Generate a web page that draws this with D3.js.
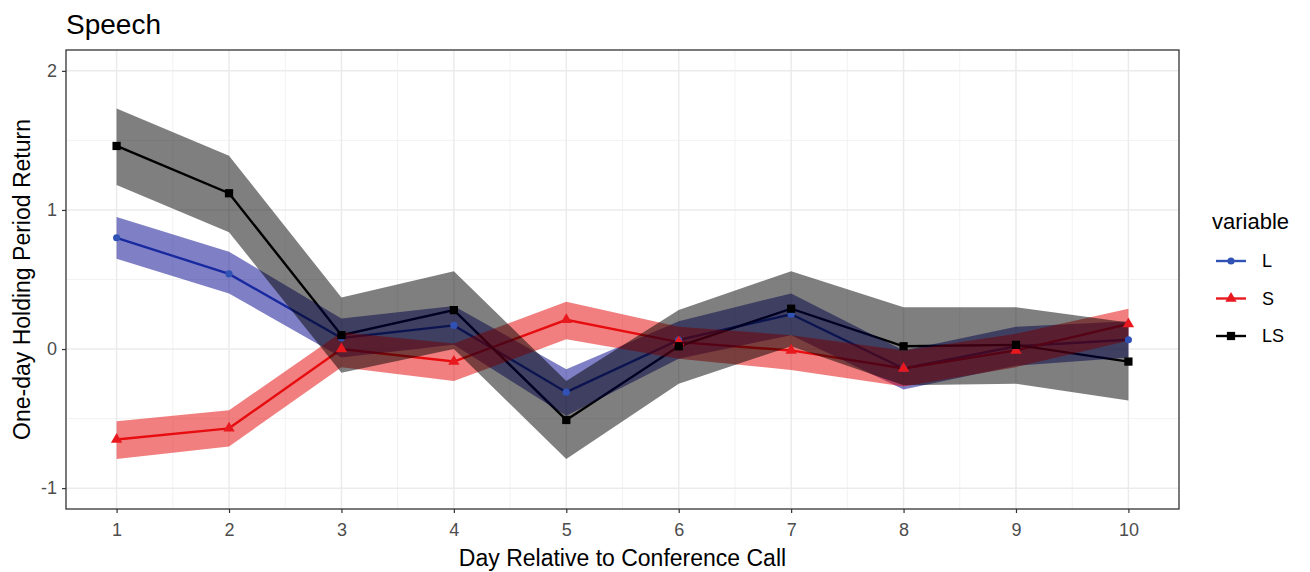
<!DOCTYPE html>
<html>
<head>
<meta charset="utf-8">
<script src="https://cdn.jsdelivr.net/npm/d3@7"></script>
<style>
  body { margin: 0; background: #fff; }
  text { font-family: "Liberation Sans", Arial, sans-serif; }
</style>
</head>
<body>
<div class="canva"></div>
<script>
// data
const days = [1, 2, 3, 4, 5, 6, 7, 8, 9, 10];
const seriesNames = ['L', 'S', 'LS'];

const L    = [0.80, 0.54, 0.08, 0.17, -0.31, 0.065, 0.25, -0.14, 0.02, 0.067];
const L_lo = [0.65, 0.40, -0.06, 0.03, -0.48, -0.07, 0.10, -0.29, -0.12, -0.06];
const L_hi = [0.95, 0.70, 0.22, 0.31, -0.145, 0.20, 0.40, -0.01, 0.16, 0.20];

const S    = [-0.65, -0.57, 0.0, -0.09, 0.21, 0.05, -0.01, -0.14, -0.01, 0.18];
const S_lo = [-0.79, -0.70, -0.13, -0.23, 0.07, -0.07, -0.15, -0.27, -0.13, 0.06];
const S_hi = [-0.52, -0.44, 0.12, 0.04, 0.34, 0.16, 0.10, -0.01, 0.11, 0.29];

const LS    = [1.46, 1.12, 0.10, 0.28, -0.51, 0.02, 0.29, 0.02, 0.03, -0.09];
const LS_lo = [1.18, 0.84, -0.17, 0.0, -0.79, -0.25, 0.02, -0.26, -0.25, -0.37];
const LS_hi = [1.73, 1.39, 0.37, 0.56, -0.23, 0.28, 0.56, 0.30, 0.30, 0.19];

const yTicks = [-1, 0, 1, 2];
const yMinor = [-0.5, 0.5, 1.5];
const xMinor = [1.5, 2.5, 3.5, 4.5, 5.5, 6.5, 7.5, 8.5, 9.5];

const lineColor = { L: '#3152b5', S: '#e8191e', LS: '#000000' };
const fillColor = { L: '#00008b', S: '#e60000', LS: '#000000' };
const shapes = { L: d3.symbolCircle, S: d3.symbolTriangle, LS: d3.symbolSquare };
const shapeSize = { L: 40, S: 56, LS: 68 };

const series = [
  { key: 'L', v: L, lo: L_lo, hi: L_hi },
  { key: 'S', v: S, lo: S_lo, hi: S_hi },
  { key: 'LS', v: LS, lo: LS_lo, hi: LS_hi }
];

const W = 1310, H = 572;
const pLeft = 66, pRight = 1179, pTop = 50, pBottom = 509;

const svg = d3.select('.canva').append('svg')
  .attr('width', W)
  .attr('height', H);

const x = d3.scaleLinear().domain([0.55, 10.45]).range([pLeft, pRight]);
const y = d3.scaleLinear().domain([-1.15, 2.15]).range([pBottom, pTop]);

// grid
const grid = svg.append('g');
grid.selectAll('.ymin').data(yMinor).enter().append('line')
  .attr('x1', pLeft).attr('x2', pRight)
  .attr('y1', d => y(d)).attr('y2', d => y(d))
  .attr('stroke', '#f2f2f2').attr('stroke-width', 1);
grid.selectAll('.xmin').data(xMinor).enter().append('line')
  .attr('y1', pTop).attr('y2', pBottom)
  .attr('x1', d => x(d)).attr('x2', d => x(d))
  .attr('stroke', '#f2f2f2').attr('stroke-width', 1);
grid.selectAll('.ymaj').data(yTicks).enter().append('line')
  .attr('x1', pLeft).attr('x2', pRight)
  .attr('y1', d => y(d)).attr('y2', d => y(d))
  .attr('stroke', '#ebebeb').attr('stroke-width', 1.5);
grid.selectAll('.xmaj').data(days).enter().append('line')
  .attr('y1', pTop).attr('y2', pBottom)
  .attr('x1', d => x(d)).attr('x2', d => x(d))
  .attr('stroke', '#ebebeb').attr('stroke-width', 1.5);

const line = d3.line().x((d, i) => x(days[i])).y(d => y(d));

// lines sit below the ribbons
series.forEach(s => {
  svg.append('path')
    .attr('d', line(s.v))
    .attr('fill', 'none')
    .attr('stroke', lineColor[s.key])
    .attr('stroke-width', 2.4);
});

series.forEach(s => {
  const area = d3.area()
    .x((d, i) => x(days[i]))
    .y0((d, i) => y(s.lo[i]))
    .y1((d, i) => y(s.hi[i]));
  svg.append('path')
    .attr('d', area(days))
    .attr('fill', fillColor[s.key])
    .attr('fill-opacity', 0.5);
});

series.forEach(s => {
  svg.selectAll('.pt-' + s.key).data(s.v).enter().append('path')
    .attr('d', d3.symbol().type(shapes[s.key]).size(shapeSize[s.key]))
    .attr('transform', (d, i) => 'translate(' + x(days[i]) + ',' + y(d) + ')')
    .attr('fill', lineColor[s.key]);
});

// panel border
svg.append('rect')
  .attr('x', pLeft).attr('y', pTop)
  .attr('width', pRight - pLeft).attr('height', pBottom - pTop)
  .attr('fill', 'none').attr('stroke', '#333').attr('stroke-width', 1.3);

// axes (plain hyphen for negatives, like the original)
const fmt = d => String(d);
const xAxis = svg.append('g')
  .attr('transform', 'translate(0,' + pBottom + ')')
  .call(d3.axisBottom(x).tickValues(days).tickSize(4).tickPadding(10).tickFormat(fmt));
const yAxis = svg.append('g')
  .attr('transform', 'translate(' + pLeft + ',0)')
  .call(d3.axisLeft(y).tickValues(yTicks).tickSize(4).tickPadding(5).tickFormat(fmt));
[xAxis, yAxis].forEach(a => {
  a.select('.domain').remove();
  a.selectAll('.tick line').attr('stroke', '#333').attr('stroke-width', 1.2);
  a.selectAll('.tick text').attr('fill', '#4d4d4d').style('font-size', '18px')
    .style('font-family', '"Liberation Sans", Arial, sans-serif');
});

// titles
svg.append('text')
  .attr('x', 66).attr('y', 34)
  .style('font-size', '28px')
  .text('Speech');

svg.append('text')
  .attr('x', (pLeft + pRight) / 2).attr('y', 566)
  .attr('text-anchor', 'middle')
  .style('font-size', '23px')
  .text('Day Relative to Conference Call');

svg.append('text')
  .attr('transform', 'translate(30,' + ((pTop + pBottom) / 2) + ') rotate(-90)')
  .attr('text-anchor', 'middle')
  .style('font-size', '23px')
  .text('One-day Holding Period Return');

// legend
const legend = svg.append('g');
legend.append('text')
  .attr('x', 1212).attr('y', 229)
  .style('font-size', '22px')
  .text('variable');
seriesNames.forEach((k, i) => {
  const ly = 261 + i * 37.5;
  legend.append('line')
    .attr('x1', 1216).attr('x2', 1246)
    .attr('y1', ly).attr('y2', ly)
    .attr('stroke', lineColor[k]).attr('stroke-width', 2.4);
  legend.append('path')
    .attr('d', d3.symbol().type(shapes[k]).size(shapeSize[k]))
    .attr('transform', 'translate(1231,' + ly + ')')
    .attr('fill', lineColor[k]);
  legend.append('text')
    .attr('x', 1262).attr('y', ly + 6)
    .style('font-size', '18px')
    .text(k);
});
</script>
</body>
</html>
